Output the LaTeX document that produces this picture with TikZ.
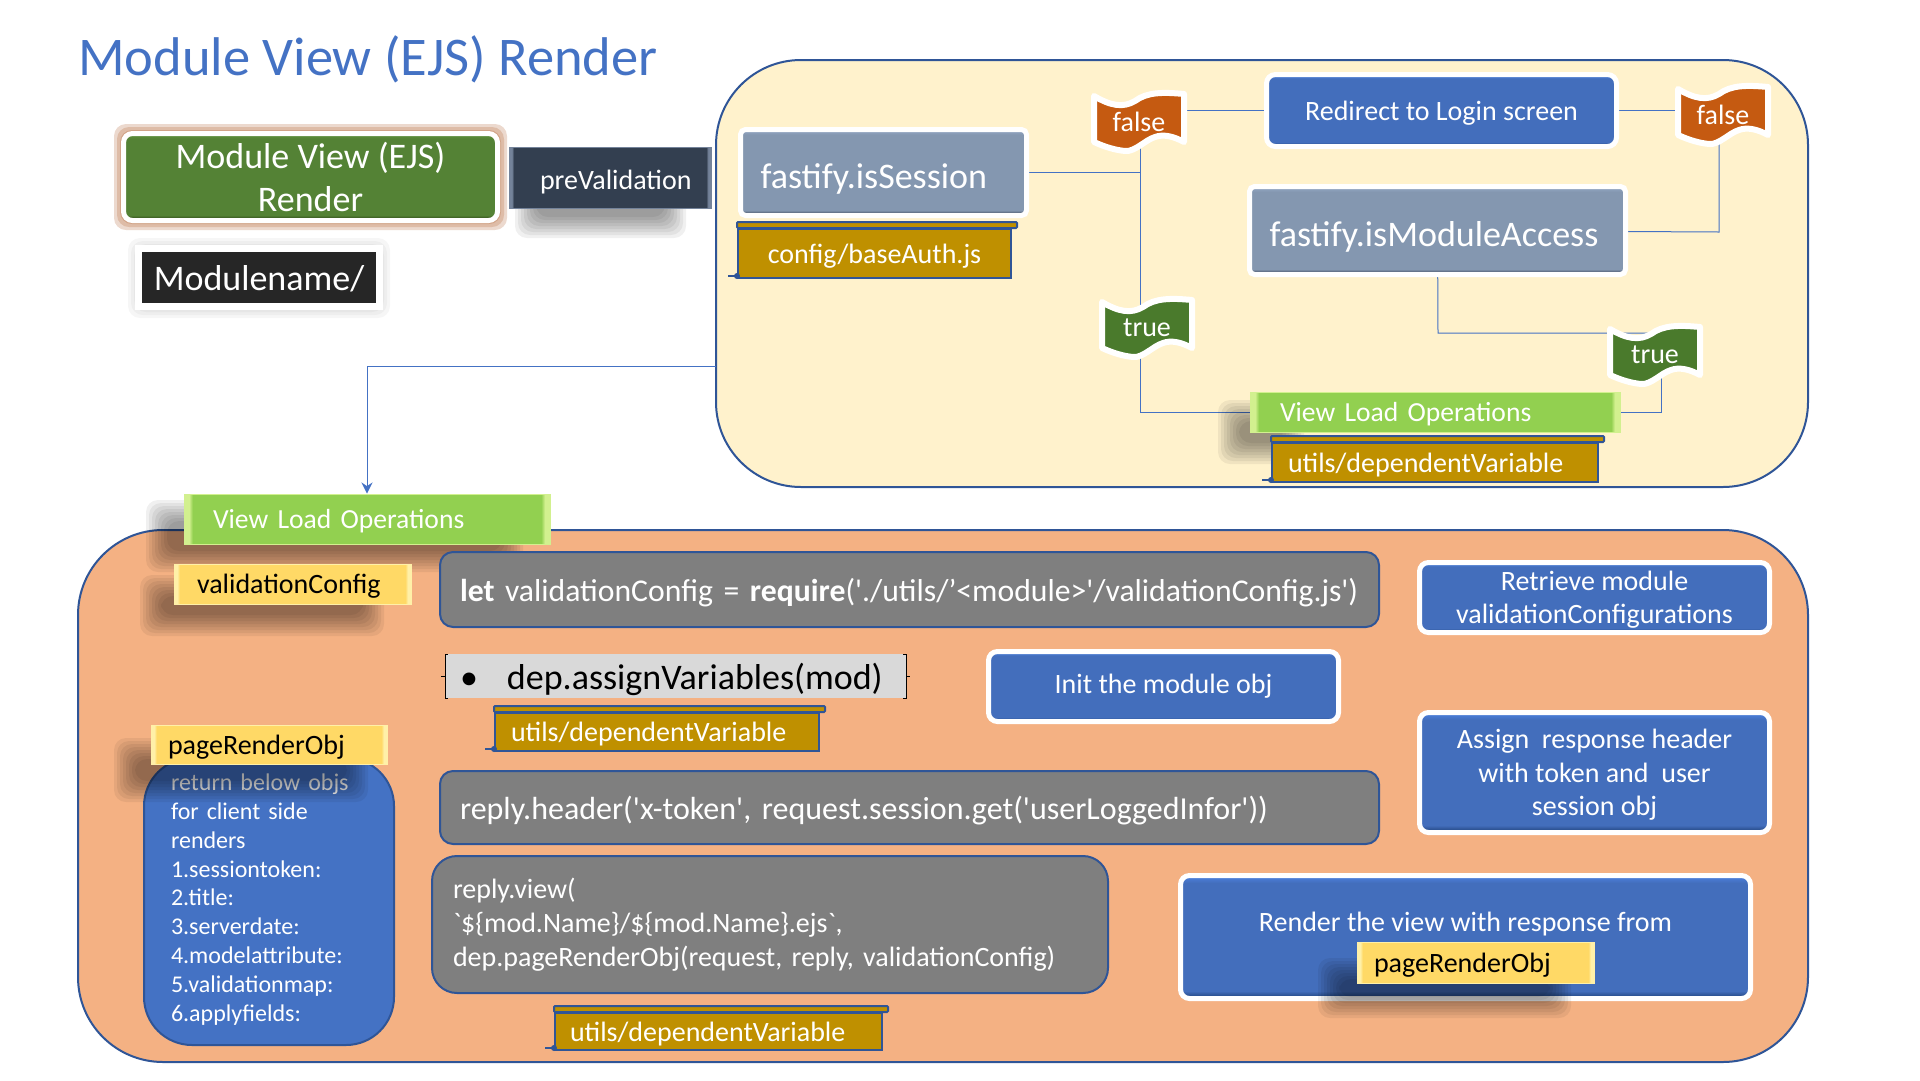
\documentclass[tikz,border=0pt]{standalone}
\usepackage{fontspec}
\usepackage{tikz}
\usetikzlibrary{
	arrows.meta,
	backgrounds,
	calc
}
\newfontfamily\labelfont{Carlito}

\definecolor{linkblue}{HTML}{4472C4}
\definecolor{edgeblue}{HTML}{2F5597}
\definecolor{panelcream}{HTML}{FFF2CC}
\definecolor{panelorange}{HTML}{F4B183}
\definecolor{flagorange}{HTML}{C55A11}
\definecolor{flaggreen}{HTML}{4A7A2C}
\definecolor{scrollgold}{HTML}{BF9000}
\definecolor{codegray}{HTML}{7F7F7F}
\definecolor{depgray}{HTML}{D9D9D9}
\definecolor{glowbrown}{HTML}{A8501A}

\definecolor{blueup}{HTML}{4A7CD6}
\definecolor{bluemid}{HTML}{436EBC}
\definecolor{bluelow}{HTML}{2F5597}
\definecolor{greenup}{HTML}{5C8E3A}
\definecolor{greenmid}{HTML}{548235}
\definecolor{greenlow}{HTML}{38571F}
\definecolor{slateup}{HTML}{90A4C0}
\definecolor{slatemid}{HTML}{8497B0}
\definecolor{slatelow}{HTML}{566378}
\definecolor{limeedge}{HTML}{D2F08F}
\definecolor{limemid}{HTML}{92D050}
\definecolor{sunedge}{HTML}{FFF0A8}
\definecolor{sunmid}{HTML}{FFD966}
\definecolor{navyedge}{HTML}{74839A}
\definecolor{navymid}{HTML}{333F50}

% top and bottom strip of the framed boxes
\newcommand{\newbevel}[4]{\pgfdeclareverticalshading{#1}{100bp}{color(0bp)=(#4); color(26.5bp)=(#4); color(28bp)=(#3); color(72bp)=(#3); color(74bp)=(#2); color(100bp)=(#2)}}
\newbevel{bevelblue}{blueup}{bluemid}{bluelow}
\newbevel{bevelgreen}{greenup}{greenmid}{greenlow}
\newbevel{bevelslate}{slateup}{slatemid}{slatelow}
% left and right strip of the label boxes
\newcommand{\newsides}[3]{\pgfdeclarehorizontalshading{#1}{100bp}{color(0bp)=(#2); color(25.7bp)=(#2); color(26.2bp)=(#3); color(73.8bp)=(#3); color(74.3bp)=(#2); color(100bp)=(#2)}}
\newsides{sideslime}{limeedge}{limemid}
\newsides{sidessun}{sunedge}{sunmid}
\newsides{sidesnavy}{navyedge}{navymid}

\newcommand{\softshadow}[5][black]{
	\foreach \inset in {0,3,...,21}{
		\fill[#1, opacity=0.06, rounded corners=12pt] (#2+\inset,#3+\inset) rectangle (#4-\inset,#5-\inset);
	}
}
\newcommand{\wavyflag}[5]{
	\begin{scope}[shift={(#2,#3)}]
		\draw[draw=white, line width=6pt, line join=round, fill=#4]
			(-45,-26) .. controls (-28,-16) and (-16,-14) .. (-4,-21)
			.. controls (8,-30) and (24,-30) .. (45,-28)
			-- (45,20) .. controls (34,14) and (24,12) .. (16,15)
			.. controls (6,18) and (-4,30) .. (-14,29)
			.. controls (-24,28) and (-34,25) .. (-45,20) -- cycle;
	\end{scope}
	\node[flagtext] (#1) at (#2,#3) {#5};
}
\newcommand{\scrollparts}[1]{
	\draw[scrollpart] ([yshift=6pt]#1.north west) rectangle ([xshift=5pt]#1.north east);
	\draw[scrollpart] ([yshift=3pt]#1.south west) -- ([xshift=-9pt,yshift=3pt]#1.south west);
	\fill[edgeblue] ([yshift=3pt]#1.south west) circle (3pt);
}

\begin{document}
\begin{tikzpicture}[
		x=1pt, y=-1pt,
		txt/.style 2 args={font=\labelfont\fontsize{#1}{#2}\selectfont},
		dims/.style 2 args={minimum width=#1pt, minimum height=#2pt, inner sep=0pt, text depth=0pt},
		pad/.style 2 args={inner xsep=#1pt, text width=#2pt, align=left},
		panel/.style={draw=edgeblue, line width=2pt, rounded corners=85pt},
		framed/.style={draw=white, line width=5pt, rounded corners=9pt, align=center, text=white},
		bluebox/.style={framed, shading=bevelblue, txt={28}{33.5}},
		slatebox/.style={framed, shading=bevelslate, rounded corners=5pt, txt={36}{43}, text height=32pt},
		codebox/.style={draw=edgeblue, line width=2pt, fill=codegray, rounded corners=13pt, text=white},
		scrollbox/.style={draw=edgeblue, line width=2pt, fill=scrollgold, text=white, txt={28}{33}},
		scrollpart/.style={draw=edgeblue, line width=2pt, fill=scrollgold, rounded corners=1pt},
		limebox/.style={shading=sideslime, draw=limeedge, line width=1pt, text=white, txt={27.6}{33}},
		sunbox/.style={shading=sidessun, draw=sunedge, line width=1pt, text=black, txt={28}{33}},
		flagtext/.style={dims={88}{60}, text=white, txt={28}{33}},
		link/.style={draw=linkblue, line width=1pt},
		>=Stealth
	]

	\useasboundingbox (0,0) rectangle (1920,1080);

	\begin{pgfonlayer}{background}
		\node[panel, dims={1092}{427}, fill=panelcream] (checks) at (1262,273.5) {};
		\node[panel, dims={1730}{532}, fill=panelorange] (render) at (943,796) {};
	\end{pgfonlayer}

	\node[txt={54.5}{60}, text=linkblue, inner sep=0pt, anchor=west] (title) at (78,59) {Module View (EJS) Render};

	% left column
	\foreach \layer in {1,...,4}{
		\softshadow[glowbrown]{114}{124}{507}{230}
	}
	\node[framed, shading=bevelgreen, dims={374}{87}, txt={36}{43}] (module) at (310.5,177) {Module View (EJS)\\Render};
	\softshadow{515}{160}{686}{238}
	\node[shading=sidesnavy, draw=navyedge, line width=1pt, dims={202}{61}, pad={31}{140}, text=white, txt={28}{33}, text height=24pt] (prevalid) at (610,177.5) {preValidation};
	\softshadow[black!60]{128}{238}{390}{318}
	\node[draw=white, line width=7pt, fill=black!85, dims={241}{58}, text=white, txt={36}{43}] (modname) at (259,277.5) {Modulename/};

	% session and access checks
	\node[slatebox, dims={286}{86}, pad={20}{246}] (session) at (883.5,172.5) {fastify.isSession};
	\node[scrollbox, dims={273}{49}] (baseauth) at (874.5,253.5) {config/baseAuth.js};
	\scrollparts{baseauth}
	\node[bluebox, dims={350}{72}] (redirect) at (1441.5,110.5) {Redirect to Login screen};
	\node[slatebox, dims={376}{88}, pad={20}{336}] (access) at (1437.5,230.5) {fastify.isModuleAccess};
	\wavyflag{falseA}{1139}{122}{flagorange}{false}
	\wavyflag{falseB}{1723}{115}{flagorange}{false}
	\wavyflag{trueA}{1147}{328}{flaggreen}{true}
	\wavyflag{trueB}{1655}{355}{flaggreen}{true}
	\softshadow{1218}{400}{1304}{464}
	\node[limebox, dims={370}{40}, pad={30}{310}] (loadA) at (1435,412) {View Load Operations};
	\node[scrollbox, dims={326}{39}, pad={16}{294}] (utilsA) at (1435,462.5) {utils/dependentVariable};
	\scrollparts{utilsA}

	% view load operations
	\softshadow{146}{500}{523}{572}
	\node[limebox, dims={366}{50}, pad={29}{308}] (loadB) at (367,519) {View Load Operations};
	\softshadow{140}{575}{384}{636}
	\node[sunbox, dims={237}{40}, pad={23}{191}] (valconfig) at (292.5,584) {validationConfig};
	\node[codebox, dims={939}{75}, pad={20}{899}, txt={31.7}{38}] (require) at (909.5,589.5) {\textbf{let} validationConfig = \textbf{require}('./utils/’<module>'/validationConfig.js')};
	\node[bluebox, dims={350}{70}] (retrieve) at (1594.5,597.5) {Retrieve module\\validationConfigurations};

	\node[fill=depgray, dims={461}{44}, pad={15}{431}, txt={36}{42}] (assign) at (675.5,676) {\makebox[47pt][l]{•}dep.assignVariables(mod)};
	\draw ([xshift=3pt]assign.north west) -- (assign.north west) -- (assign.south west) -- ([xshift=3pt]assign.south west);
	\draw (assign.west) -- ([xshift=-4pt]assign.west);
	\draw ([xshift=-3pt]assign.north east) -- (assign.north east) -- (assign.south east) -- ([xshift=-3pt]assign.south east);
	\draw (assign.east) -- ([xshift=4pt]assign.east);
	\node[scrollbox, dims={324}{38}, pad={16}{292}] (utilsB) at (657,732) {utils/dependentVariable};
	\scrollparts{utilsB}
	\node[bluebox, dims={350}{70}, text depth=] (initobj) at (1163.5,686.5) {Init the module obj};

	\node[bluebox, dims={350}{120}] (header) at (1594.5,772.5) {Assign\ \ response header\\with token and\ \ user\\session obj};
	\node[codebox, dims={939}{73}, pad={20}{899}, txt={32}{38}] (reply) at (909.5,807.5) {reply.header('x-token', request.session.get('userLoggedInfor'))};
	\node[codebox, dims={676}{137}, pad={21}{634}, rounded corners=25pt, txt={28}{34}, text depth=] (view) at (770,924.5) {reply.view(\\`\$\{mod.Name\}/\$\{mod.Name\}.ejs`,\\dep.pageRenderObj(request, reply, validationConfig)};
	\node[scrollbox, dims={327}{37}, pad={15}{297}] (utilsC) at (718.5,1031.5) {utils/dependentVariable};
	\scrollparts{utilsC}

	% page render object
	\node[draw=edgeblue, line width=2pt, fill=linkblue, rounded corners=48pt, dims={250}{287}, pad={27}{196}, text=white, txt={24}{28.8}, text depth=] (objlist) at (269,901.5) {return below objs\\for client side\\renders\\1.sessiontoken:\\2.title:\\3.serverdate:\\4.modelattribute:\\5.validationmap:\\6.applyfields:\\[-21pt]\mbox{}};
	\softshadow{114}{738}{368}{802}
	\node[sunbox, dims={236}{39}, pad={17}{202}] (objname) at (269,744.5) {pageRenderObj};

	\node[bluebox, dims={570}{123}, txt={28}{30}] (response) at (1465.5,937) {Render the view with response from\\\mbox{}};
	\softshadow{1318}{958}{1571}{1018}
	\node[sunbox, dims={237}{41}, pad={17}{203}] (objnameB) at (1475.5,962.5) {pageRenderObj};

	% connectors sit above the panels and below every box
	\coordinate (jointA) at (1140,172.5);
	\coordinate (jointB) at (1140,412);
	\coordinate (jointC) at (1719,232);
	\coordinate (jointD) at (1438,333);
	\coordinate (jointE) at (1661,412);
	\coordinate (exit) at (716,366);
	\begin{pgfonlayer}{background}
		\draw[link] (session) -- (jointA) -- (jointA |- falseA);
		\draw[link] (jointA) -- (jointB) -- (loadA);
		\draw[link] (falseA.center |- redirect) -- (redirect);
		\draw[link] (redirect) -- (falseB.center |- redirect);
		\draw[link] (jointC |- falseB) -- (jointC) -- (access);
		\draw[link] (access) -- (jointD) -- (jointD -| trueB);
		\draw[link] (jointE |- trueB) -- (jointE) -- (loadA);
	\end{pgfonlayer}
	\draw[link, -{Stealth[length=11pt, width=11pt]}] (exit) -| (loadB.north);
\end{tikzpicture}
\end{document}
